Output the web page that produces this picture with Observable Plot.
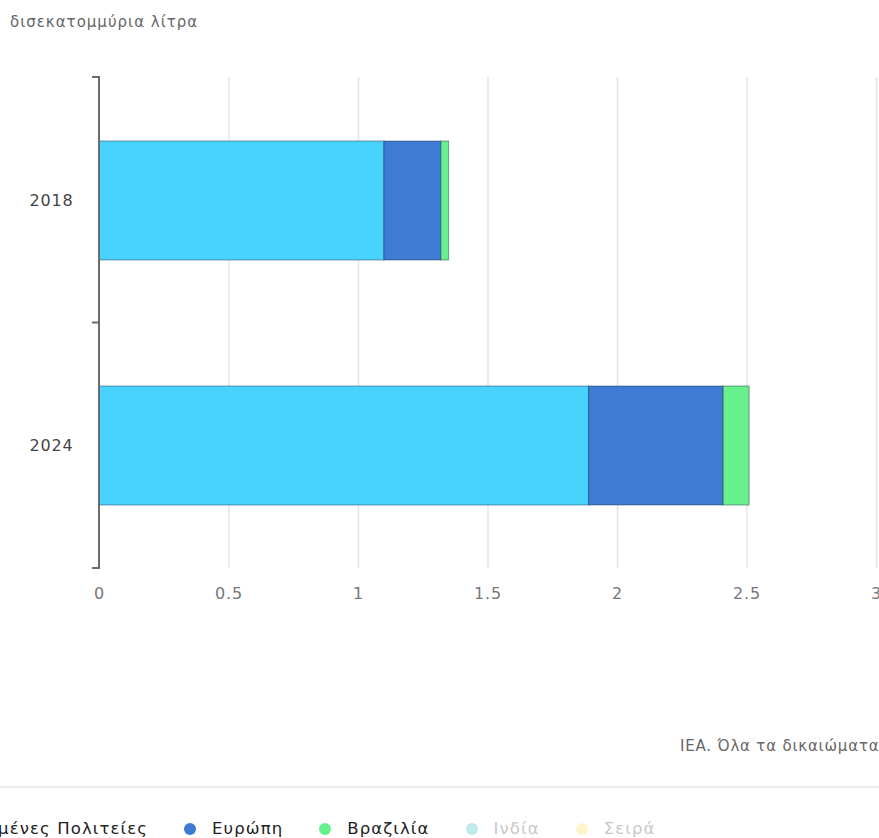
<!DOCTYPE html>
<html>
<head>
<meta charset="utf-8">
<script src="https://cdn.jsdelivr.net/npm/d3@7"></script>
<script src="https://cdn.jsdelivr.net/npm/@observablehq/plot@0.6"></script>
<style>
  html, body { margin: 0; padding: 0; background: #fff; }
  body { width: 879px; height: 838px; overflow: hidden; position: relative; font-family: "DejaVu Sans", sans-serif; }
  #title { position: absolute; left: 10px; top: 13px; font-size: 15px; letter-spacing: 1px; color: #666; white-space: nowrap; }
  #chart { position: absolute; left: 0; top: 0; }
  #caption { position: absolute; left: 680px; top: 737px; font-size: 15px; letter-spacing: 0.8px; color: #666; white-space: nowrap; }
  #divider { position: absolute; left: 0; top: 786px; width: 879px; height: 2px; background: #ececec; }
  #legend { position: absolute; left: 0; top: 819px; display: flex; align-items: center; font-size: 16.5px; letter-spacing: 1.1px; white-space: nowrap; }
  .item { display: flex; align-items: center; margin-right: 36px; }
  .dot { width: 12px; height: 12px; border-radius: 50%; margin-right: 16px; }
</style>
</head>
<body>
<div id="title">δισεκατομμύρια λίτρα</div>
<div id="chart"></div>
<div id="caption">IEA. Όλα τα δικαιώματα διατηρούνται.</div>
<div id="divider"></div>
<div id="legend"></div>
<script>
// Years on the vertical axis
const years = ["2018", "2024"];

// Regions, in stacking order
const regions = ["Ηνωμένες Πολιτείες", "Ευρώπη", "Βραζιλία", "Ινδία", "Σειρά"];

// Values per region, in billion litres (one entry per year)
const unitedStates = [1.10, 1.89];
const europe = [0.22, 0.52];
const brazil = [0.03, 0.10];
const india = [0, 0];
const other = [0, 0];

// Horizontal axis ticks
const xTicks = [0, 0.5, 1, 1.5, 2, 2.5, 3];

// Region colours and whether each legend entry is switched on
const colors = ["#48d3ff", "#3e7bd4", "#66f08e", "#bfeaea", "#fff5cc"];
const active = [true, true, true, false, false];

const seriesValues = [unitedStates, europe, brazil, india, other];
const rows = [];
regions.forEach((r, i) => {
  years.forEach((y, j) => {
    rows.push({ region: r, year: y, value: seriesValues[i][j] });
  });
});

// Bracket-style vertical axis with ticks at band boundaries
function bracketAxis(index, scales, values, dims) {
  const x0 = dims.marginLeft;
  const top = dims.marginTop;
  const bottom = dims.height - dims.marginBottom;
  const n = years.length;
  let d = `M${x0 - 7},${top}H${x0}V${bottom}H${x0 - 7}`;
  for (let i = 1; i < n; i++) {
    const yy = top + (i * (bottom - top)) / n;
    d += `M${x0 - 7},${yy}H${x0}`;
  }
  const path = d3.create("svg:path")
    .attr("d", d)
    .attr("fill", "none")
    .attr("stroke", "#6b6b6b")
    .attr("stroke-width", 2);
  return path.node();
}

const chart = Plot.plot({
  width: 879,
  height: 620,
  marginTop: 77,
  marginBottom: 52,
  marginLeft: 99,
  marginRight: 3,
  style: { fontFamily: "DejaVu Sans, sans-serif", fontSize: "16px", letterSpacing: "0.8px", color: "#555", overflow: "visible" },
  x: { domain: [0, 3] },
  y: { domain: years, paddingInner: 0.515, paddingOuter: 0.2575, align: 0.5 },
  color: { domain: regions, range: colors },
  marks: [
    Plot.gridX(xTicks.filter(t => t > 0), { stroke: "#e4e4e4", strokeOpacity: 1, strokeWidth: 1.5 }),
    Plot.barX(rows, Plot.stackX({
      x: "value",
      y: "year",
      fill: "region",
      stroke: "#1c2b3a",
      strokeOpacity: 0.45,
      strokeWidth: 1,
      order: regions
    })),
    Plot.axisX({ ticks: xTicks, tickSize: 0, tickPadding: 19, tickFormat: d => String(d), fill: "#777", label: null }),
    Plot.axisY({ tickSize: 0, tickPadding: 26, fill: "#444", label: null }),
    bracketAxis
  ]
});
document.getElementById("chart").append(chart);

// Legend under the divider
const legend = document.getElementById("legend");
const dots = [];
regions.forEach((r, i) => {
  const item = document.createElement("div");
  item.className = "item";
  const dot = document.createElement("span");
  dot.className = "dot";
  dot.style.background = colors[i];
  const label = document.createElement("span");
  label.textContent = r;
  label.style.color = active[i] ? "#222" : "#c8c8c8";
  item.append(dot, label);
  legend.append(item);
  dots.push(dot);
});
// The legend row is centred on a wider panel; its left part runs off the page
const eu = dots[1].getBoundingClientRect();
legend.style.left = (190 - (eu.left + eu.width / 2)) + "px";
</script>
</body>
</html>
